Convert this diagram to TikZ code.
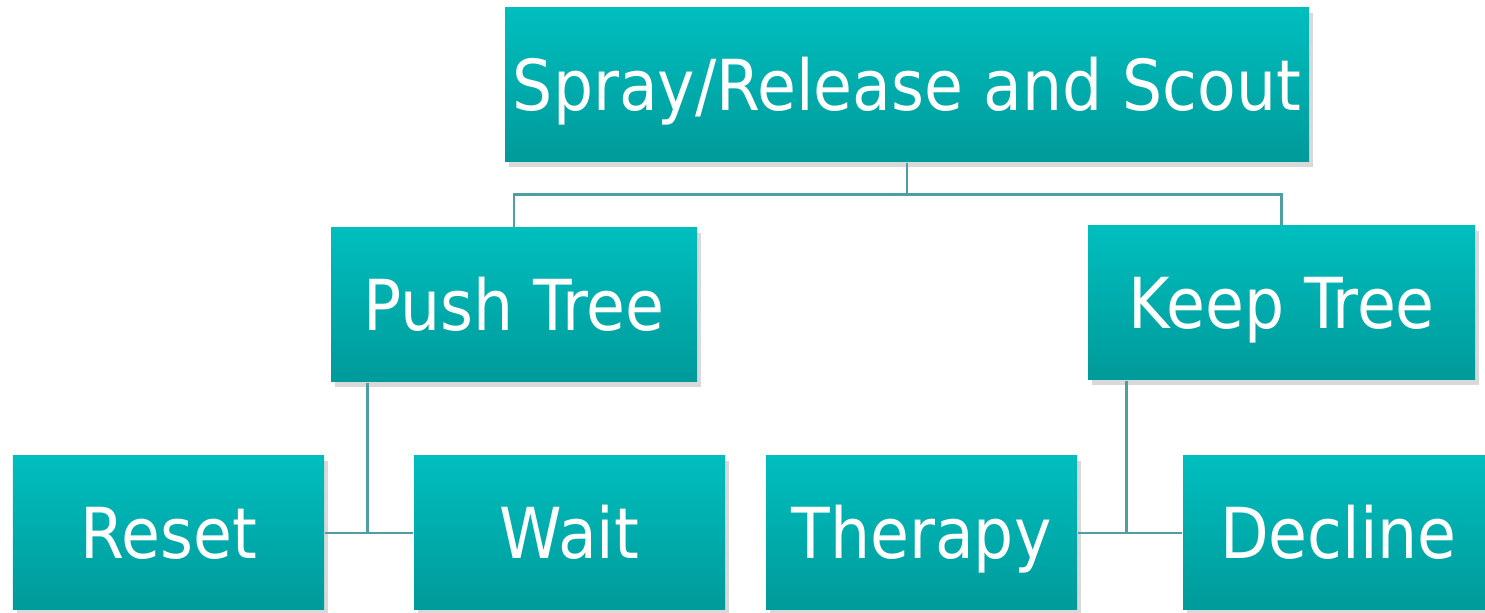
\documentclass[tikz,border=0pt]{standalone}
\usepackage{fontspec}
\setmainfont{DejaVu Sans Condensed}
\usetikzlibrary{shadows,calc}
\definecolor{tealtop}{RGB}{0,190,190}
\definecolor{tealbot}{RGB}{0,154,154}
\definecolor{tealline}{RGB}{78,158,162}

\begin{document}
\begin{tikzpicture}[
        orgbox/.style={rectangle,draw=none,top color=tealtop,bottom color=tealbot,
            text=white,font=\fontsize{20}{22}\selectfont,
            text height=18.6pt,text depth=4pt,
            minimum height=1.54cm,inner sep=0pt,
            drop shadow={shadow xshift=0.04cm,shadow yshift=-0.05cm,opacity=0.3}},
        orgline/.style={draw=tealline,line width=0.7pt}
    ]
        \useasboundingbox (0,0) rectangle (14.85,6.13);
        % top box
        \node[orgbox,minimum width=8.04cm] at (9.07,5.28) (top) {Spray/Release and Scout};
        % second level
        \node[orgbox,minimum width=3.66cm] at (5.14,3.08) (push) {Push Tree};
        \node[orgbox,minimum width=3.87cm] at (12.815,3.10) (keep) {Keep Tree};
        % third level
        \node[orgbox,minimum width=3.11cm] at (1.685,0.80) (reset) {Reset};
        \node[orgbox,minimum width=3.11cm] at (5.695,0.80) (wait) {Wait};
        \node[orgbox,minimum width=3.11cm] at (9.215,0.80) (therapy) {Therapy};
        \node[orgbox,minimum width=3.11cm] at (13.385,0.80) (decline) {Decline};
        % fork below the top box
        \coordinate (fork) at ($(top.south)+(0,-0.32)$);
        % draw links
        \draw[orgline] (top.south) -- (fork);
        \draw[orgline] (push.north) |- (fork) -| (keep.north);
        \draw[orgline] ([xshift=0.37cm]push.south west) |- (reset.east);
        \draw[orgline] (reset.east) -- (wait.west);
        \draw[orgline] ([xshift=0.39cm]keep.south west) |- (therapy.east);
        \draw[orgline] (therapy.east) -- (decline.west);
    \end{tikzpicture}
\end{document}
